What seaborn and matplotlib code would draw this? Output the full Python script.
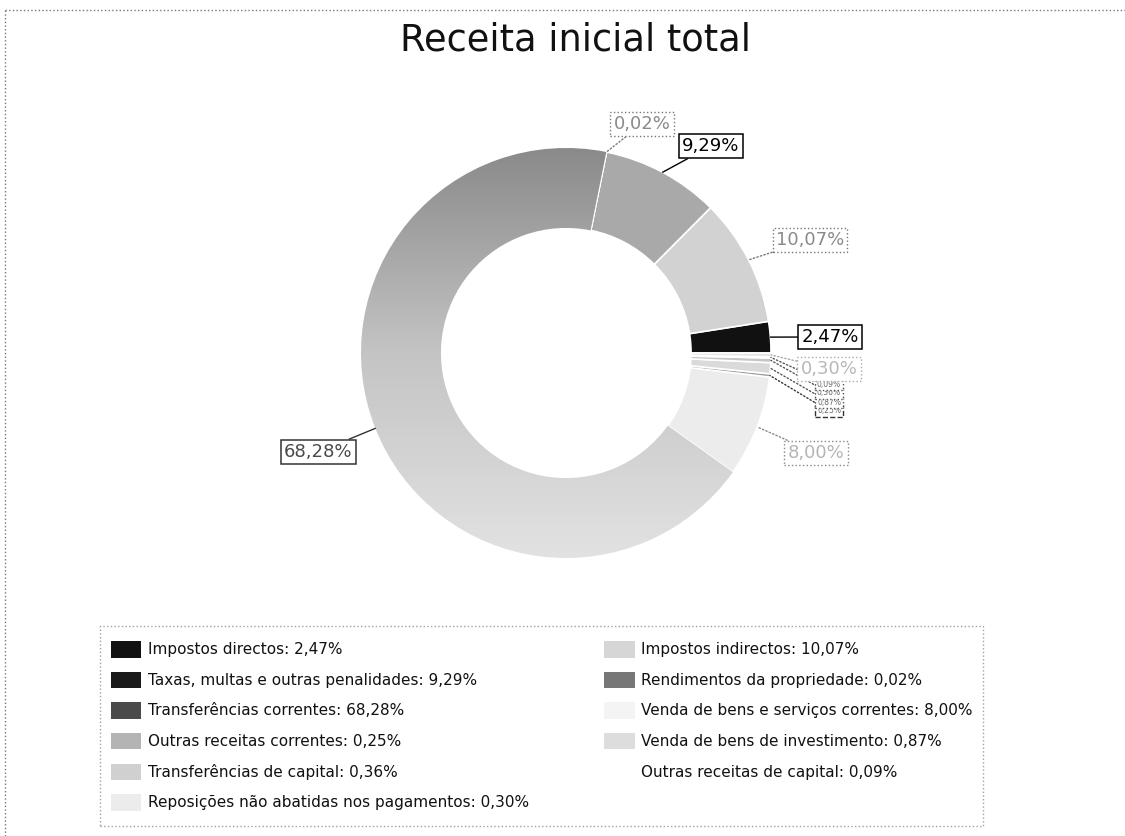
import matplotlib
matplotlib.use("Agg")
import matplotlib.pyplot as plt
import seaborn as sns
import numpy as np
from matplotlib.patches import Patch, Rectangle
from matplotlib.lines import Line2D
from matplotlib.colors import LinearSegmentedColormap
from matplotlib.legend_handler import HandlerPatch

# data (order = legend order, pie runs counter-clockwise from 0 deg)
categories = [
    "Impostos directos",
    "Impostos indirectos",
    "Taxas, multas e outras penalidades",
    "Rendimentos da propriedade",
    "Transferências correntes",
    "Venda de bens e serviços correntes",
    "Outras receitas correntes",
    "Venda de bens de investimento",
    "Transferências de capital",
    "Outras receitas de capital",
    "Reposições não abatidas nos pagamentos",
]
shares = [2.47, 10.07, 9.29, 0.02, 68.28, 8.00, 0.25, 0.87, 0.36, 0.09, 0.30]
share_labels = [f"{v:.2f}".replace(".", ",") + "%" for v in shares]

# styling
slice_colors = ["#111111", "#d2d2d2", "#a9a9a9", "#6e6e6e", "#b0b0b0", "#ececec",
                "#9c9c9c", "#dadada", "#c6c6c6", "#f2f2f2", "#e4e4e4"]
legend_colors = ["#111111", "#d6d6d6", "#1a1a1a", "#777777", "#4a4a4a", "#f4f4f4",
                 "#b4b4b4", "#dddddd", "#d0d0d0", "#ffffff", "#ececec"]
label_colors = ["#000000", "#8a8a8a", "#000000", "#8a8a8a", "#4a4a4a", "#b5b5b5",
                "#6a6a6a", "#6a6a6a", "#6a6a6a", "#6a6a6a", "#b8b8b8"]
label_edges = ["#000000", "#777777", "#000000", "#777777", "#333333", "#888888",
               "#333333", "#555555", "#555555", "#555555", "#aaaaaa"]
label_ls = ["-", ":", "-", ":", "-", ":", "--", ":", ":", ":", ":"]
label_size = [13, 13, 13, 13, 13, 13, 5.5, 5.5, 5.5, 5.5, 13]
# label box centres in pixels (x from left, y from top)
label_px = [(830, 337), (810, 240), (711, 146), (642, 124), (318, 452), (816, 453),
            (829, 411), (829, 402), (829, 393), (829, 384), (829, 369)]

W, H = 1125, 836
CX, CY, R = 566, 353, 205


def px(x, y):
    return ((x - CX) / R, (CY - y) / R)


def small_box(legend, orig_handle, xdescent, ydescent, width, height, fontsize):
    return Rectangle((-xdescent, -ydescent + height * 0.18), width, height * 0.64)


sns.set_theme(style="white")
plt.rcParams["font.family"] = ["DejaVu Sans"]

fig = plt.figure(figsize=(W / 100, H / 100), dpi=100)
fig.patch.set_facecolor("white")
ax = fig.add_axes([0, 0, 1, 1])

wedges, _ = ax.pie(shares, colors=slice_colors, startangle=0, counterclock=True, radius=1,
                   wedgeprops=dict(width=0.39, edgecolor="white", linewidth=1.2))

# vertical shading on the big slice, darker at the top like the scan
shade = LinearSegmentedColormap.from_list("shade", ["#e2e2e2", "#c4c4c4", "#8a8a8a"])
grad = np.linspace(0, 1, 256).reshape(-1, 1)
im = ax.imshow(grad, extent=(-1, 1, -1, 1), origin="lower", cmap=shade, aspect="auto",
               zorder=wedges[4].get_zorder() + 0.1)
im.set_clip_path(wedges[4])

# data labels with leader lines
for i, lab in enumerate(share_labels):
    w = wedges[i]
    mid = np.deg2rad((w.theta1 + w.theta2) / 2)
    tip = (np.cos(mid), np.sin(mid))
    solid = label_ls[i] == "-"
    pad = 0.18 if label_size[i] > 10 else 0.25
    ax.annotate(lab, xy=tip, xytext=px(*label_px[i]), ha="center", va="center",
                fontsize=label_size[i], color=label_colors[i], zorder=5 + i,
                bbox=dict(boxstyle=f"square,pad={pad}", fc="white", ec=label_edges[i],
                          lw=1.1 if solid else 1.0, ls=label_ls[i]),
                arrowprops=dict(arrowstyle="-", color=label_edges[i], lw=1.0,
                                ls="-" if solid else ":", shrinkA=0, shrinkB=0))

ax.set_xlim(-CX / R, (W - CX) / R)
ax.set_ylim(-(H - CY) / R, CY / R)
ax.set_aspect("equal")
ax.axis("off")

fig.text(575 / W, 1 - 40 / H, "Receita inicial total", ha="center", va="center",
         fontsize=26.5, color="#111111")

# legend, filled row by row like the original
order = [0, 2, 4, 6, 8, 10, 1, 3, 5, 7, 9]
handles = [Patch(facecolor=legend_colors[k], edgecolor="none") for k in order]
texts = [f"{categories[k]}: {share_labels[k]}" for k in order]
leg = fig.legend(handles, texts, ncol=2, loc="upper left",
                 bbox_to_anchor=(100 / W, 1 - 626 / H),
                 handler_map={Patch: HandlerPatch(patch_func=small_box)},
                 fontsize=11, frameon=True, fancybox=False, edgecolor="#8a8a8a",
                 handlelength=2.0, handleheight=2.2, labelspacing=0.33, borderpad=0.69,
                 borderaxespad=0, handletextpad=0.45, columnspacing=4.9)
leg.get_frame().set_linestyle(":")
leg.get_frame().set_linewidth(1.0)
for t in leg.get_texts():
    t.set_color("#111111")

# dotted page frame (top and left edges only)
fig.add_artist(Line2D([0.004, 1], [1 - 10 / H, 1 - 10 / H], transform=fig.transFigure,
                      color="#777777", lw=1, ls=":"))
fig.add_artist(Line2D([5 / W, 5 / W], [0, 1 - 10 / H], transform=fig.transFigure,
                      color="#777777", lw=1, ls=":"))

fig.savefig("out.png", dpi=100, facecolor="white")
